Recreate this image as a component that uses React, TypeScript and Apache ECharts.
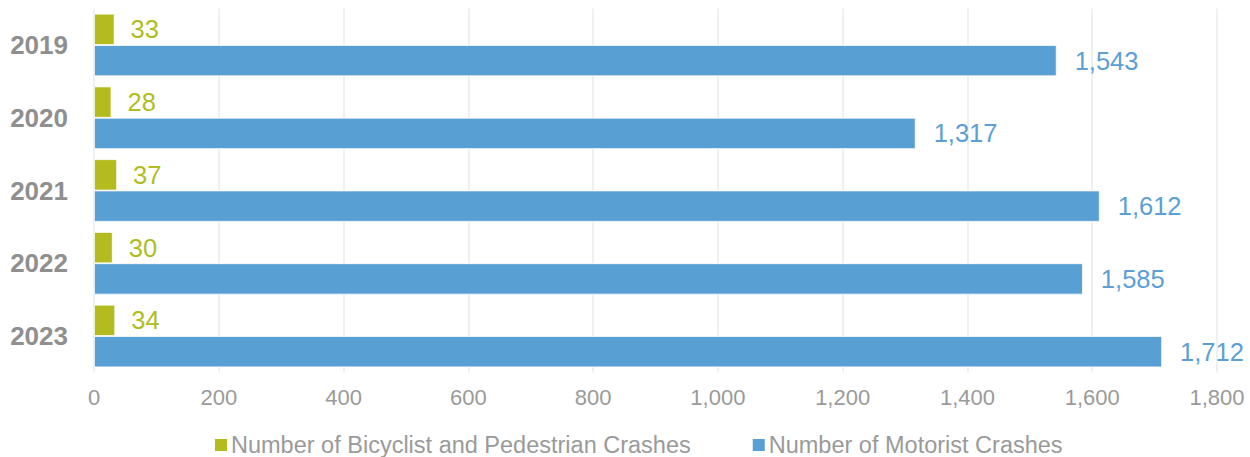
import React, { useEffect, useRef } from "react";
import * as echarts from "echarts";

const years = ["2019", "2020", "2021", "2022", "2023"];
const bikePedCrashes = [33, 28, 37, 30, 34];
const motoristCrashes = [1543, 1317, 1612, 1585, 1712];
const seriesNames = ["Number of Bicyclist and Pedestrian Crashes", "Number of Motorist Crashes"];

const FONT = "'Liberation Sans', Arial, sans-serif";
const fmt = (v: number) => v.toLocaleString("en-US");

export default function App() {
  const ref = useRef<HTMLDivElement>(null);
  useEffect(() => {
    const chart = echarts.init(ref.current!, null, { renderer: "svg" });
    chart.setOption({
      animation: false,
      textStyle: { fontFamily: FONT },
      grid: { left: 94, right: 33, top: 8.6, bottom: 84.6, containLabel: false },
      legend: {
        top: 428,
        left: 208,
        icon: "rect",
        itemWidth: 14,
        itemHeight: 14,
        itemGap: 60,
        textStyle: { color: "#9a9a9a", fontSize: 23.5, fontFamily: FONT, padding: [0, 0, 0, -2] },
        data: seriesNames,
      },
      xAxis: {
        type: "value",
        min: 0,
        max: 1800,
        interval: 200,
        axisLine: { show: false },
        axisTick: { show: false },
        splitLine: { show: true, lineStyle: { color: "#ebebeb", width: 1.5 } },
        axisLabel: {
          color: "#9a9a9a",
          fontSize: 22,
          margin: 14,
          fontFamily: FONT,
          formatter: (v: number) => fmt(v),
        },
      },
      yAxis: {
        type: "category",
        data: years,
        inverse: true,
        axisLine: { show: false },
        axisTick: { show: false },
        splitLine: { show: false },
        axisLabel: {
          color: "#8f8f8f",
          fontSize: 26,
          fontWeight: "bold",
          margin: 26,
          fontFamily: FONT,
        },
      },
      series: [
        {
          name: seriesNames[0],
          type: "bar",
          data: bikePedCrashes,
          barGap: "0%",
          barCategoryGap: "14%",
          itemStyle: { color: "#b3bb1e", borderColor: "#ffffff", borderWidth: 0.8 },
          label: {
            show: true,
            position: "right",
            distance: 16,
            color: "#b0bd1f",
            fontSize: 25.5,
            fontFamily: FONT,
            formatter: (p: any) => fmt(p.value),
          },
        },
        {
          name: seriesNames[1],
          type: "bar",
          data: motoristCrashes,
          barGap: "0%",
          barCategoryGap: "14%",
          itemStyle: { color: "#589fd4", borderColor: "#ffffff", borderWidth: 0.8 },
          label: {
            show: true,
            position: "right",
            distance: 18,
            color: "#5b9fd6",
            fontSize: 25.5,
            fontFamily: FONT,
            formatter: (p: any) => fmt(p.value),
          },
        },
      ],
    });
    return () => chart.dispose();
  }, []);
  return <div ref={ref} style={{ width: 1250, height: 457, position: "absolute", left: 0, top: 0 }} />;
}
